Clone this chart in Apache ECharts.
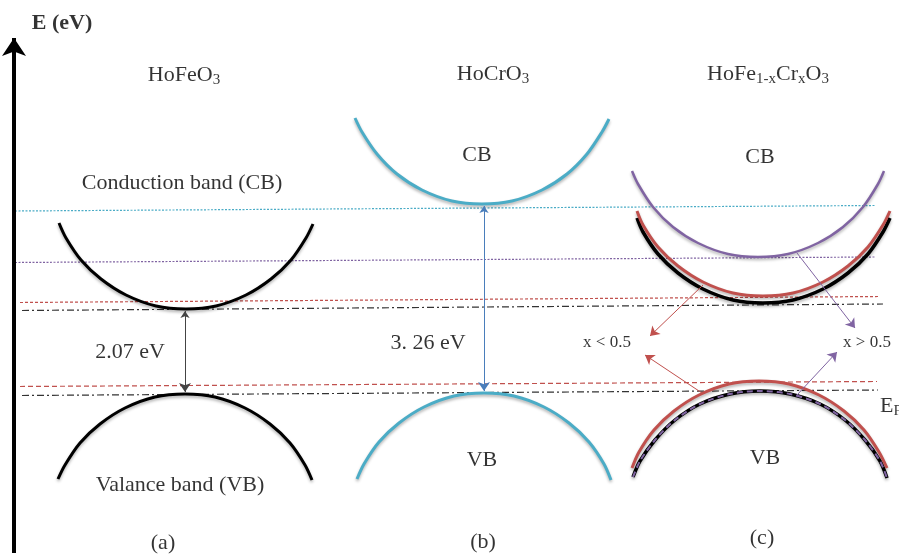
<!DOCTYPE html>
<html><head><meta charset="utf-8">
<script src="https://cdn.jsdelivr.net/npm/echarts@6/dist/echarts.min.js"></script>
<style>html,body{margin:0;padding:0;background:#fff}#c{width:899px;height:558px}</style>
</head><body><div id="c"></div>
<script>
// ---- band curves (x, E) in diagram units ----
const cbHoFeO3 = [[59,223],[66,238],[81,260],[101,279],[126,295],[156,306],[186,309],[216,306],[246,295],[271,279],[291,260],[306,238],[313,224]];
const vbHoFeO3 = [[58,479],[65,465],[80,443],[100,424],[125,408],[155,397],[185,394],[215,397],[245,408],[270,424],[290,443],[305,465],[312,480]];
const cbHoCrO3 = [[355,118],[362,132],[377,154],[397,174],[422,190],[452,201],[482,204],[512,201],[542,190],[567,174],[587,154],[602,132],[609,119]];
const vbHoCrO3 = [[357,479],[364,464],[379,442],[399,423],[424,407],[454,396],[484,393],[514,396],[544,407],[569,423],[589,442],[604,464],[611,480]];
const cbMixPurple = [[632,171],[638,184],[653,207],[673,227],[698,243],[728,254],[758,257],[788,254],[818,243],[843,227],[863,207],[878,184],[884,171]];
const cbMixRed = [[637,211],[643,225],[658,247],[678,266],[703,282],[733,293],[763,296],[793,293],[823,282],[848,266],[868,247],[883,225],[890,211]];
const cbMixBlack = [[637,218],[643,232],[658,254],[678,273],[703,289],[733,300],[763,303],[793,300],[823,289],[848,273],[868,254],[883,232],[890,218]];
const vbMixRed = [[632,468],[639,452],[654,430],[674,411],[699,395],[729,384],[759,381],[789,384],[819,395],[844,411],[864,430],[879,452],[887,468]];
const vbMixBlack = [[633,477],[640,461],[655,440],[675,420],[700,404],[730,394],[760,391],[790,394],[820,404],[845,420],[865,440],[880,461],[887,478]];

// ---- reference levels: [x1, E1, x2, E2] ----
const levelCyan = [15,211,875,205.5];
const levelPurple = [15,262.5,875,257];
const levelRedCB = [20,302.5,880,296.5];
const levelBlackCB = [22,310.5,883,304];
const levelRedVB = [20,386.5,877,381.5];
const levelBlackVB = [22,395.5,878,390];

// ---- arrows ----
const energyAxis = [[14,553],[14,38]];
const gapHoFeO3 = [[185,311],[185,392]];
const gapHoCrO3 = [[484,206],[484,391]];
const arrowsRed = [[[703,285],[650,336]],[[702,393],[645,355]]];
const arrowsPurple = [[[797,253],[855,328]],[[797,395],[837,352]]];

// ---- text labels: [x, E, text] ----
const labels = [
  [62,23,'{b|E (eV)}'],
  [184,75,'{n|HoFeO}{s|3}'],
  [182,183,'{n|Conduction band (CB)}'],
  [130,352,'{n|2.07 eV}'],
  [180,485,'{n|Valance band (VB)}'],
  [163,543,'{n|(a)}'],
  [493,74,'{n|HoCrO}{s|3}'],
  [477,155,'{n|CB}'],
  [428,343,'{n|3. 26 eV}'],
  [482,460,'{n|VB}'],
  [483,542,'{n|(b)}'],
  [768,74,'{n|HoFe}{s|1-x}{n|Cr}{s|x}{n|O}{s|3}'],
  [760,157,'{n|CB}'],
  [607,343,'{m|x < 0.5}'],
  [867,343,'{m|x > 0.5}'],
  [765,458,'{n|VB}'],
  [762,538,'{n|(c)}']
];
const fermiLabel = [880,406,'{n|E}{s|F}'];

const serif = "'Liberation Serif','Times New Roman',serif";
const rich = {
  n:{fontSize:22,fontFamily:serif,color:'#000'},
  b:{fontSize:22,fontFamily:serif,fontWeight:'bold',color:'#000'},
  m:{fontSize:17,fontFamily:serif,color:'#000'},
  s:{fontSize:15,fontFamily:serif,color:'#000',padding:[10,0,0,0]}
};

const CYAN='#4bacc6', RED='#c0504d', PURPLE='#8064a2', BLUE='#4a7ebb';
const shadow = {shadowColor:'rgba(0,0,0,0.3)',shadowBlur:3,shadowOffsetY:2};

function curve(data,color,width,extra){
  return Object.assign({type:'line',data:data,smooth:0.3,showSymbol:false,silent:true,z:3,
    lineStyle:Object.assign({color:color,width:width},shadow)},extra||{});
}
function level(l,color,type){
  return {type:'line',data:[[l[0],l[1]],[l[2],l[3]]],showSymbol:false,silent:true,z:2,
    lineStyle:{color:color,width:1.2,type:type}};
}
function arrows(list,color,width,sym,size){
  return {type:'lines',coordinateSystem:'cartesian2d',silent:true,z:4,
    symbol:sym,symbolSize:size,
    lineStyle:{color:color,width:width,opacity:1},
    data:list.map(c=>({coords:c}))};
}

const option = {
  animation:false,
  backgroundColor:'#fff',
  grid:{left:0,right:0,top:0,bottom:0},
  xAxis:{type:'value',min:0,max:899,show:false},
  yAxis:{type:'value',min:0,max:558,inverse:true,show:false},
  series:[
    level(levelCyan,CYAN,[2,1.5]),
    level(levelPurple,PURPLE,[2,1.5]),
    level(levelRedCB,RED,[3,2]),
    level(levelBlackCB,'#333',[7,3,2,3]),
    level(levelRedVB,RED,[5,3]),
    level(levelBlackVB,'#333',[7,3,2,3]),
    curve(cbHoFeO3,'#000',3),
    curve(vbHoFeO3,'#000',3),
    curve(cbHoCrO3,CYAN,3),
    curve(vbHoCrO3,CYAN,3),
    curve(cbMixBlack,'#000',3.5),
    curve(cbMixRed,RED,3),
    curve(cbMixPurple,PURPLE,2.5),
    curve(vbMixBlack,'#000',3.5),
    curve(vbMixBlack,PURPLE,2,{z:5,lineStyle:{color:PURPLE,width:2,type:[6,4]}}),
    curve(vbMixRed,RED,3),
    arrows([energyAxis],'#000',4,['none','arrow'],[16,18]),
    arrows([gapHoFeO3],'#444',1,['arrow','arrow'],[7,9]),
    arrows([gapHoCrO3],BLUE,1,['arrow','arrow'],[7,9]),
    arrows(arrowsRed,RED,1,['none','arrow'],[7,9]),
    arrows(arrowsPurple,PURPLE,1,['none','arrow'],[7,9]),
    {type:'scatter',symbolSize:0,silent:true,clip:false,z:6,
      data:labels.map(l=>({value:[l[0],l[1]],text:l[2]})),
      label:{show:true,position:'inside',formatter:p=>p.data.text,rich:rich}},
    {type:'scatter',symbolSize:0,silent:true,clip:false,z:6,
      data:[{value:[fermiLabel[0],fermiLabel[1]],text:fermiLabel[2]}],
      label:{show:true,position:'right',distance:0,formatter:p=>p.data.text,rich:rich}}
  ]
};
const chart = echarts.init(document.getElementById('c'),null,{renderer:'canvas'});
chart.setOption(option);
</script></body></html>
